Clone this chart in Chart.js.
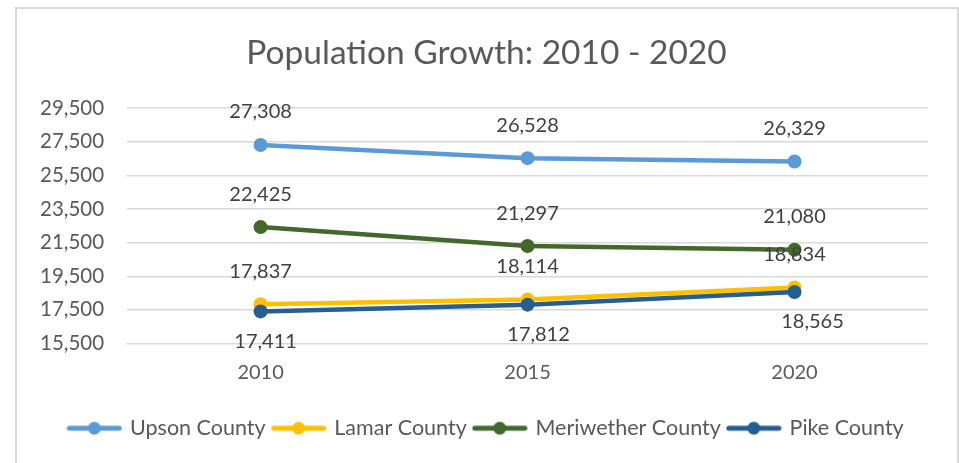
<!DOCTYPE html>
<html>
<head>
<meta charset="utf-8">
<script src="https://cdn.jsdelivr.net/npm/chart.js@4.4.1/dist/chart.umd.min.js"></script>
<style>
  html, body { margin: 0; padding: 0; background: #fff; }
  body { width: 959px; height: 463px; position: relative; overflow: hidden; }
  #frame { position: absolute; left: 15px; top: 7px; width: 940px; height: 470px; border: 2px solid #d9d9d9; background: #fff; }
  #wrap { position: absolute; left: 17px; top: 9px; width: 939px; height: 454px; }
</style>
</head>
<body>
<div id="frame"></div>
<div id="wrap"><canvas id="mycanvas"></canvas></div>
<script>
var years = ['2010', '2015', '2020'];
var upson = [27308, 26528, 26329];
var lamar = [17837, 18114, 18834];
var meriwether = [22425, 21297, 21080];
var pike = [17411, 17812, 18565];
var seriesNames = ['Upson County', 'Lamar County', 'Meriwether County', 'Pike County'];
var seriesColors = ['#5b9bd5', '#ffc000', '#43682b', '#255e91'];
var labelSide = ['above', 'above', 'above', 'below'];

var FONT = 'Lato, "Open Sans", sans-serif';

// legend marker: line with a dot in the middle
function legendMarker(color) {
	var c = document.createElement('canvas');
	c.width = 56; c.height = 16;
	var g = c.getContext('2d');
	g.strokeStyle = color;
	g.lineWidth = 5;
	g.lineCap = 'round';
	g.beginPath(); g.moveTo(3, 8); g.lineTo(53, 8); g.stroke();
	g.fillStyle = color;
	g.beginPath(); g.arc(28, 8, 6.5, 0, Math.PI * 2); g.fill();
	return c;
}

var markers = seriesColors.map(legendMarker);

// small sideways nudge for the Pike labels (excel moved them a bit)
var pikeNudge = [5, 11, 18];

var valueLabels = {
	id: 'valueLabels',
	afterDatasetsDraw: function(chart) {
		var ctx = chart.ctx;
		ctx.save();
		ctx.font = '20px ' + FONT;
		ctx.fillStyle = '#404040';
		ctx.textAlign = 'center';
		ctx.textBaseline = 'middle';
		chart.data.datasets.forEach(function(ds, i) {
			var meta = chart.getDatasetMeta(i);
			meta.data.forEach(function(pt, j) {
				var dy = ds.labelSide === 'below' ? 30 : -33;
				var dx = ds.labelSide === 'below' ? pikeNudge[j] : 0;
				ctx.fillText(ds.data[j].toLocaleString('en-US'), pt.x + dx, pt.y + dy);
			});
		});
		ctx.restore();
	}
};

var seriesData = [upson, lamar, meriwether, pike];
var datasets = seriesData.map(function(d, i) {
	return {
		label: seriesNames[i],
		data: d,
		borderColor: seriesColors[i],
		backgroundColor: seriesColors[i],
		borderWidth: 4.5,
		pointRadius: 7,
		pointHoverRadius: 7,
		pointBorderWidth: 0,
		labelSide: labelSide[i],
		tension: 0
	};
});
// pike drawn on top of lamar
datasets[1].order = 1;
datasets[3].order = 0;

var ctx = document.getElementById('mycanvas');
new Chart(ctx, {
	type: 'line',
	data: { labels: years, datasets: datasets },
	plugins: [valueLabels],
	options: {
		responsive: true,
		maintainAspectRatio: false,
		animation: false,
		layout: { padding: { left: 0, right: 0, top: 0, bottom: 14 } },
		plugins: {
			title: {
				display: true,
				text: 'Population Growth: 2010 - 2020',
				color: '#595959',
				font: { family: FONT, size: 33.5, weight: 'normal' },
				padding: { top: 24, bottom: 35 }
			},
			legend: {
				position: 'bottom',
				labels: {
					usePointStyle: true,
					pointStyleWidth: 50,
					padding: 8,
					color: '#595959',
					font: { family: FONT, size: 21.5 },
					generateLabels: function(chart) {
						return chart.data.datasets.map(function(ds, i) {
							return {
								text: ds.label,
								pointStyle: markers[i],
								fillStyle: ds.borderColor,
								strokeStyle: ds.borderColor,
								lineWidth: 0,
								hidden: false,
								datasetIndex: i,
								fontColor: '#595959'
							};
						});
					}
				}
			},
			tooltip: { enabled: false }
		},
		scales: {
			x: {
				offset: true,
				grid: { display: false },
				border: { display: false },
				ticks: { color: '#595959', font: { family: FONT, size: 20 }, padding: 9 },
				afterFit: function(axis) { axis.height += 16; }
			},
			y: {
				min: 15500,
				max: 29500,
				afterBuildTicks: function(axis) {
					var t = [];
					for (var v = 15500; v <= 29500; v += 2000) t.push({ value: v });
					axis.ticks = t;
				},
				grid: { color: '#d9d9d9', lineWidth: 1.5, drawTicks: false },
				border: { display: false },
				ticks: {
					color: '#595959',
					font: { family: FONT, size: 20.5 },
					padding: 23,
					callback: function(v) { return v.toLocaleString('en-US'); }
				}
			},
			// empty strip on the right so the plot ends before the frame
			spacer: {
				position: 'right',
				grid: { display: false, drawTicks: false },
				border: { display: false },
				ticks: { display: false },
				afterFit: function(axis) { axis.width = 28; }
			}
		}
	}
});
</script>
</body>
</html>
